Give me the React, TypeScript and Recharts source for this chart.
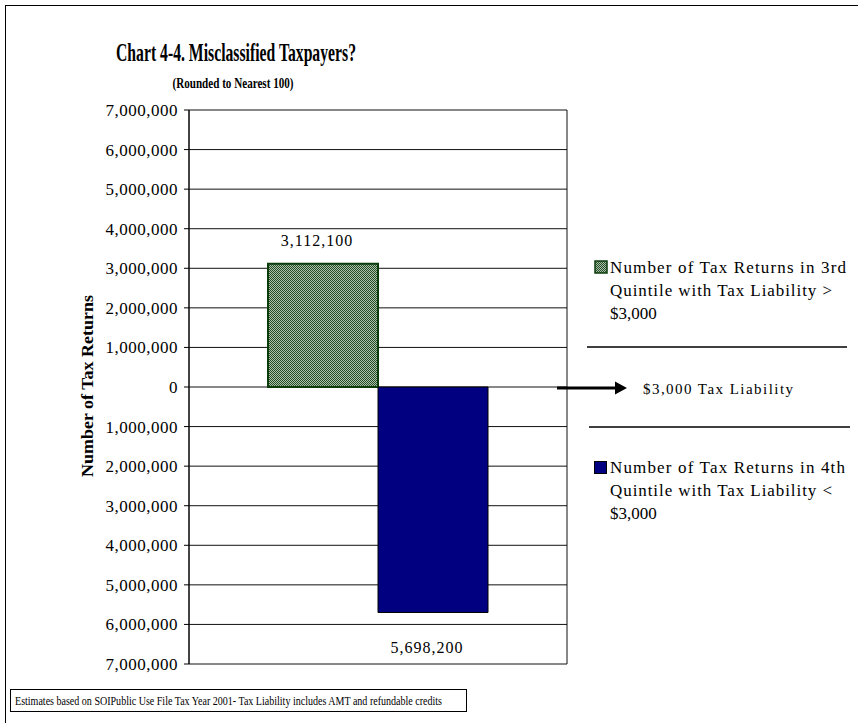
import { BarChart, Bar, XAxis, YAxis, CartesianGrid, LabelList } from 'recharts';

const categories = ['Quintile shift'];
const thirdQuintileOver = [3112100];
const fourthQuintileUnder = [-5698200];
const yTicks = [-7000000, -6000000, -5000000, -4000000, -3000000, -2000000, -1000000, 0, 1000000, 2000000, 3000000, 4000000, 5000000, 6000000, 7000000];

const data = categories.map((name, i) => ({
  name,
  third: thirdQuintileOver[i],
  fourth: fourthQuintileUnder[i],
}));

const SERIF = '"Liberation Serif", "Times New Roman", serif';
const fmt = (v: number) => Math.abs(v).toLocaleString('en-US');

function BarValue(props: any) {
  const { x, y, width, height, value } = props;
  const top = Math.min(y, y + height);
  const bottom = Math.max(y, y + height);
  const cx = x + width / 2 - 6;
  const ty = value >= 0 ? top - 23 : bottom + 35;
  return (
    <text x={cx} y={ty} textAnchor="middle" dominantBaseline="central" fontFamily={SERIF} fontSize={16} letterSpacing={1} fill="#000">
      {fmt(value)}
    </text>
  );
}

function CheckPattern({ id }: { id: string }) {
  return (
    <pattern id={id} width="2" height="2" patternUnits="userSpaceOnUse">
      <rect width="2" height="2" fill="#aebfae" />
      <rect x="0" y="0" width="1" height="1" fill="#244f24" />
      <rect x="1" y="1" width="1" height="1" fill="#244f24" />
    </pattern>
  );
}

export default function App() {
  return (
    <div style={{ position: 'absolute', left: 0, top: 0, width: 858, height: 723, background: '#fff' }}>
      <BarChart
        width={858}
        height={723}
        data={data}
        margin={{ top: 110, right: 291, bottom: 59, left: 79 }}
        barGap={0}
      >
        <defs>
          <CheckPattern id="greenCheck" />
        </defs>
        <CartesianGrid
          stroke="#111"
          verticalCoordinatesGenerator={({ offset }: any) => [offset.left, offset.left + offset.width]}
        />
        <XAxis dataKey="name" hide />
        <YAxis
          width={110}
          domain={[-7000000, 7000000]}
          ticks={yTicks}
          interval={0}
          tickFormatter={fmt}
          tick={{ fill: '#000', fontSize: 17, fontFamily: SERIF, letterSpacing: 0.5 }}
          tickSize={5}
          tickMargin={6}
          axisLine={{ stroke: '#000' }}
          tickLine={{ stroke: '#000' }}
        />
        <Bar dataKey="third" barSize={110} fill="url(#greenCheck)" stroke="#0b3d0b" strokeWidth={2} isAnimationActive={false}>
          <LabelList dataKey="third" content={BarValue} />
        </Bar>
        <Bar dataKey="fourth" barSize={110} fill="#000080" stroke="#000" strokeWidth={1} isAnimationActive={false}>
          <LabelList dataKey="fourth" content={BarValue} />
        </Bar>
      </BarChart>

      <svg width={858} height={723} style={{ position: 'absolute', left: 0, top: 0, pointerEvents: 'none' }}>
        <defs>
          <CheckPattern id="greenCheck2" />
        </defs>
        <rect x={5.5} y={5.5} width={870} height={740} fill="none" stroke="#000" strokeWidth={1} />
        <text x={236} y={52} textAnchor="middle" dominantBaseline="central" fontFamily={SERIF} fontWeight="bold" fontSize={25} textLength={240} lengthAdjust="spacingAndGlyphs">
          Chart 4-4.  Misclassified Taxpayers?
        </text>
        <text x={233} y={82} textAnchor="middle" dominantBaseline="central" fontFamily={SERIF} fontWeight="bold" fontSize={15.5} textLength={121} lengthAdjust="spacingAndGlyphs">
          (Rounded to Nearest 100)
        </text>
        <text
          x={87}
          y={386}
          transform="rotate(-90 87 386)"
          textAnchor="middle"
          dominantBaseline="central"
          fontFamily={SERIF}
          fontWeight="bold"
          fontSize={17}
          textLength={182}
          lengthAdjust="spacingAndGlyphs"
        >
          Number of Tax Returns
        </text>

        <rect x={595} y={261} width={12} height={12} fill="url(#greenCheck2)" stroke="#0b3d0b" strokeWidth={1.5} />
        <rect x={594.5} y={461.5} width={12} height={12} fill="#000080" stroke="#000" strokeWidth={1} />
        <g fontFamily={SERIF} fontSize={17} fill="#000">
          <text x={610} y={267} dominantBaseline="central" textLength={236} lengthAdjust="spacing">Number of Tax Returns in 3rd</text>
          <text x={610} y={290} dominantBaseline="central" textLength={222} lengthAdjust="spacing">Quintile with Tax Liability &gt;</text>
          <text x={610} y={313} dominantBaseline="central">$3,000</text>
          <text x={610} y={467} dominantBaseline="central" textLength={235} lengthAdjust="spacing">Number of Tax Returns in 4th</text>
          <text x={610} y={490} dominantBaseline="central" textLength={222} lengthAdjust="spacing">Quintile with Tax Liability &lt;</text>
          <text x={610} y={513} dominantBaseline="central">$3,000</text>
        </g>

        <line x1={587} y1={347} x2={847} y2={347} stroke="#000" strokeWidth={1.5} />
        <line x1={589} y1={427} x2={850} y2={427} stroke="#000" strokeWidth={1.5} />
        <line x1={557} y1={388} x2={618} y2={388} stroke="#000" strokeWidth={3} />
        <polygon points="615,381.5 627,388 615,394.5" fill="#000" />
        <text x={643} y={389} dominantBaseline="central" fontFamily={SERIF} fontSize={15} textLength={150} lengthAdjust="spacing">
          $3,000 Tax  Liability
        </text>

        <rect x={10.5} y={689.5} width={456} height={22} fill="#fff" stroke="#000" strokeWidth={1} />
        <text x={15} y={701} dominantBaseline="central" fontFamily={SERIF} fontSize={12} textLength={427} lengthAdjust="spacingAndGlyphs">
          Estimates based on SOIPublic Use File Tax Year 2001- Tax Liability includes AMT and refundable credits
        </text>
      </svg>
    </div>
  );
}
